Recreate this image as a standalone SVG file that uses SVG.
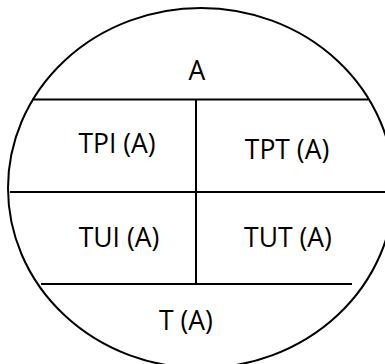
<svg xmlns="http://www.w3.org/2000/svg" width="385" height="364" viewBox="0 0 385 364">
<style>
.ln{stroke:#000;stroke-width:2;fill:none}
.lb{font-family:"Open Sans","Noto Sans","Liberation Sans",sans-serif;font-size:26.5px;fill:#000;text-anchor:middle}
</style>
<rect width="385" height="364" fill="#fff"/>
<g id="outline">
<ellipse class="ln" cx="201" cy="188" rx="193" ry="180"/>
</g>
<g id="connectors">
<line class="ln" x1="32" y1="99.5" x2="368" y2="99.5"/>
<line class="ln" x1="10" y1="192" x2="385" y2="192"/>
<line class="ln" x1="41" y1="284" x2="352" y2="284"/>
<line class="ln" x1="196" y1="99.5" x2="196" y2="284"/>
</g>
<g id="node-A"><text class="lb" x="197" y="80">A</text></g>
<g id="node-TPI"><text class="lb" x="117" y="153">TPI (A)</text></g>
<g id="node-TPT"><text class="lb" x="287" y="159">TPT (A)</text></g>
<g id="node-TUI"><text class="lb" x="119" y="247">TUI (A)</text></g>
<g id="node-TUT"><text class="lb" x="288" y="247">TUT (A)</text></g>
<g id="node-T"><text class="lb" x="186" y="330">T (A)</text></g>
</svg>
